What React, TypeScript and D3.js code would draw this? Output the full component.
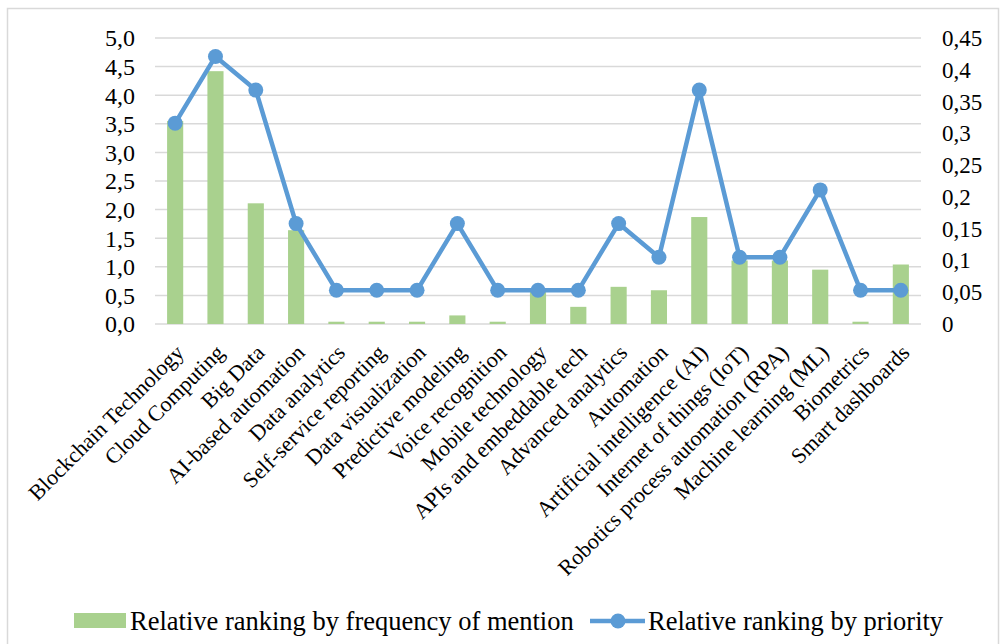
import React from 'react';
import * as d3 from 'd3';

const categories: string[] = [
	'Blockchain Technology',
	'Cloud Computing',
	'Big Data',
	'AI-based automation',
	'Data analytics',
	'Self-service reporting',
	'Data visualization',
	'Predictive modeling',
	'Voice recognition',
	'Mobile technology',
	'APIs and embeddable tech',
	'Advanced analytics',
	'Automation',
	'Artificial intelligence (AI)',
	'Internet of things (IoT)',
	'Robotics process automation (RPA)',
	'Machine learning (ML)',
	'Biometrics',
	'Smart dashboards',
];

// bars, left axis
const frequency: number[] = [
	3.55, 4.42, 2.11, 1.64, 0.04, 0.04, 0.04, 0.15, 0.04, 0.56, 0.3, 0.65, 0.59, 1.87, 1.11, 1.11, 0.95, 0.04, 1.04,
];

// line, right axis
const priority: number[] = [
	0.316, 0.421, 0.368, 0.158, 0.053, 0.053, 0.053, 0.158, 0.053, 0.053, 0.053, 0.158, 0.105, 0.368, 0.105, 0.105,
	0.211, 0.053, 0.053,
];

const leftTicks: number[] = [0, 0.5, 1, 1.5, 2, 2.5, 3, 3.5, 4, 4.5, 5];
const rightTicks: number[] = [0, 0.05, 0.1, 0.15, 0.2, 0.25, 0.3, 0.35, 0.4, 0.45];

const legendLabels: string[] = ['Relative ranking by frequency of mention', 'Relative ranking by priority'];

const W = 1000;
const H = 644;
const margin = { top: 38, right: 79, bottom: 320, left: 155 };
const innerWidth = W - margin.left - margin.right;
const innerHeight = H - margin.top - margin.bottom;

const green = '#a9d18e';
const blue = '#5b9bd5';
const grid = '#d9d9d9';
const font = '"Liberation Serif", "Times New Roman", serif';

const App: React.FC = () => {
	const x = d3.scaleBand<string>().domain(categories).range([0, innerWidth]).paddingInner(0.6).paddingOuter(0.3);
	const xc = (c: string) => (x(c) as number) + x.bandwidth() / 2;
	const yLeft = d3.scaleLinear().domain([0, 5]).range([innerHeight, 0]);
	const yRight = d3.scaleLinear().domain([0, 0.45]).range([innerHeight, 0]);

	const line = d3
		.line<number>()
		.x((d, i) => xc(categories[i]))
		.y((d) => yRight(d));

	const fmtLeft = (v: number) => v.toFixed(1).replace('.', ',');
	const fmtRight = (v: number) => String(+v.toFixed(2)).replace('.', ',');

	return (
		<svg width={W} height={H} style={{ position: 'fixed', left: 0, top: 0, background: '#fff' }} fontFamily={font}>
			{/* outer chart frame */}
			<path d={`M7.5,${H + 5} V8.5 H998.5 V${H + 5}`} fill="none" stroke={grid} strokeWidth={1.5} />

			<g transform={`translate(${margin.left},${margin.top})`}>
				{leftTicks.map((t) => (
					<line key={'g' + t} x1={0} x2={innerWidth} y1={yLeft(t)} y2={yLeft(t)} stroke={grid} strokeWidth={1.5} />
				))}
				{leftTicks.map((t) => (
					<text key={'l' + t} x={-20} y={yLeft(t)} dy="0.35em" textAnchor="end" fontSize={24} fill="#000">
						{fmtLeft(t)}
					</text>
				))}
				{rightTicks.map((t) => (
					<text
						key={'r' + t}
						x={innerWidth + 21}
						y={yRight(t)}
						dy="0.35em"
						textAnchor="start"
						fontSize={23}
						fill="#000"
					>
						{fmtRight(t)}
					</text>
				))}

				{frequency.map((v, i) => (
					<rect
						key={'b' + i}
						x={x(categories[i])}
						y={yLeft(v)}
						width={x.bandwidth()}
						height={innerHeight - yLeft(v)}
						fill={green}
					/>
				))}

				<path d={line(priority) || ''} fill="none" stroke={blue} strokeWidth={4.5} strokeLinejoin="round" />
				{priority.map((v, i) => (
					<circle key={'p' + i} cx={xc(categories[i])} cy={yRight(v)} r={7.5} fill={blue} />
				))}

				{categories.map((c) => (
					<text
						key={'x' + c}
						transform={`translate(${xc(c) + 10},${innerHeight + 30}) rotate(-45)`}
						textAnchor="end"
						fontSize={22}
						fill="#000"
					>
						{c}
					</text>
				))}
			</g>

			{/* legend */}
			<g transform="translate(74,621)">
				<rect x={0} y={-8} width={52} height={15} fill={green} />
				<text x={56} y={0} dy="0.35em" fontSize={26.5} fill="#000">
					{legendLabels[0]}
				</text>
				<line x1={516} x2={571} y1={0} y2={0} stroke={blue} strokeWidth={4.5} />
				<circle cx={544} cy={0} r={7.5} fill={blue} />
				<text x={574} y={0} dy="0.35em" fontSize={26.5} fill="#000">
					{legendLabels[1]}
				</text>
			</g>
		</svg>
	);
};

export default App;
